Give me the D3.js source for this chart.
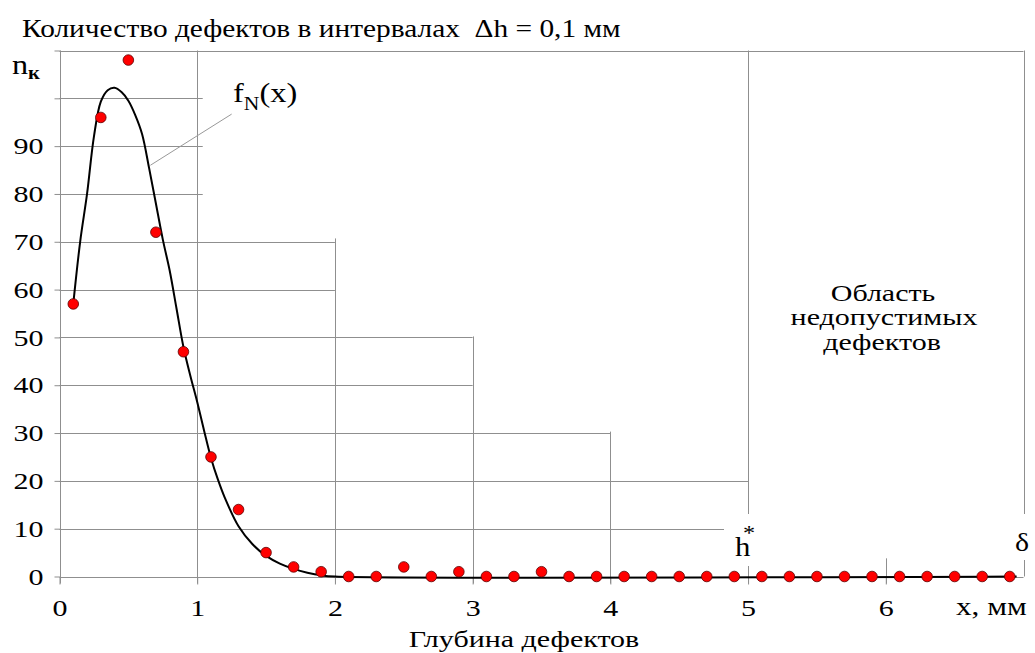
<!DOCTYPE html>
<html>
<head>
<meta charset="utf-8">
<script src="https://d3js.org/d3.v7.min.js"></script>
<style>
  body { margin: 0; background: #fff; }
</style>
</head>
<body>
<script>
// depth of defects (mm) and counted defects
var depthX = [0.1, 0.3, 0.5, 0.7, 0.9, 1.1, 1.3, 1.5, 1.7, 1.9,
              2.1, 2.3, 2.5, 2.7, 2.9, 3.1, 3.3, 3.5, 3.7, 3.9,
              4.1, 4.3, 4.5, 4.7, 4.9, 5.1, 5.3, 5.5, 5.7, 5.9,
              6.1, 6.3, 6.5, 6.7, 6.9];
var counts = [57, 96, 108, 72, 47, 25, 14, 5, 2, 1,
              0, 0, 2, 0, 1, 0, 0, 1, 0, 0,
              0, 0, 0, 0, 0, 0, 0, 0, 0, 0,
              0, 0, 0, 0, 0];

// fitted curve f_N(x)
var fitX = [0.1, 0.15, 0.2, 0.25, 0.3, 0.35, 0.4, 0.45, 0.5, 0.55, 0.6, 0.65, 0.7, 0.75, 0.8,
            0.85, 0.9, 0.95, 1.0, 1.05, 1.1, 1.15, 1.2, 1.3, 1.4, 1.5, 1.6, 1.7, 1.8, 1.9, 2.0, 6.95];
var fitY = [57, 70, 80, 92, 99.3, 101.7, 102.2, 101.3, 99.5, 96.5, 92.5, 85.5, 78, 70.5, 64,
            56, 48, 42, 36.5, 30.5, 24.8, 20.3, 16.5, 10.5, 6.8, 4.3, 2.7, 1.6, 0.8, 0.25, 0, 0];

var xTicks = [0, 1, 2, 3, 4, 5, 6];
var yTicks = [0, 10, 20, 30, 40, 50, 60, 70, 80, 90, 100, 110];
var yLabels = [0, 10, 20, 30, 40, 50, 60, 70, 80, 90];

// grid lines stop in a staircase: [level, x where it ends]
var hGrid = [[10, 5], [20, 5], [30, 4], [40, 3], [50, 3], [60, 2], [70, 2],
             [80, 1.04], [90, 1.04], [100, 1.04], [110, 7]];
// vertical lines: [x, level where it starts]
var vGrid = [[1, 110], [2, 70.7], [3, 50.2], [4, 30.3], [5, 110], [6, 3.8], [7, 110]];

var leader = [[1.25, 96.7], [0.66, 86]];

var width = 1035, height = 653;
var SX = 1.25; // text in the picture is stretched sideways
var FONT = 'Liberation Serif, Tinos, serif';
var gridCol = '#8f8f8f';

var svg = d3.select('body').append('svg')
  .attr('width', width)
  .attr('height', height)
  .attr('font-family', FONT);

var x = d3.scaleLinear().domain([0, 7]).range([59.5, 1023.5]);
var y = d3.scaleLinear().domain([0, 110]).range([576.5, 50.5]);

// grid
svg.append('g').selectAll('line')
  .data(hGrid)
  .join('line')
  .attr('x1', x(0)).attr('x2', function(d) { return x(d[1]); })
  .attr('y1', function(d) { return Math.round(y(d[0])) + 0.5; })
  .attr('y2', function(d) { return Math.round(y(d[0])) + 0.5; })
  .attr('stroke', gridCol).attr('stroke-width', 1);

svg.append('g').selectAll('line')
  .data(vGrid)
  .join('line')
  .attr('x1', function(d) { return Math.round(x(d[0])) + 0.5; })
  .attr('x2', function(d) { return Math.round(x(d[0])) + 0.5; })
  .attr('y1', function(d) { return y(d[1]); })
  .attr('y2', function(d) { return d[0] == 7 ? y(0) : y(0) + 7; })
  .attr('stroke', gridCol).attr('stroke-width', 1);

// axes
var yAxis = d3.axisLeft(y).tickValues(yTicks).tickSize(6).tickSizeOuter(0)
  .tickFormat(function(d) { return yLabels.indexOf(d) >= 0 ? d : ''; });
var gy = svg.append('g').attr('transform', 'translate(' + (Math.round(x(0)) + 0.5) + ',0)').call(yAxis);
gy.attr('font-family', FONT);
gy.select('.domain').remove();
gy.selectAll('.tick line').attr('stroke', gridCol);
gy.selectAll('.tick text')
  .attr('x', 0)
  .attr('transform', 'translate(-17,0) scale(' + SX + ',1)')
  .attr('font-family', FONT)
  .attr('font-size', 24);

var xAxis = d3.axisBottom(x).tickValues(xTicks).tickSize(7).tickSizeOuter(0)
  .tickFormat(d3.format('d'));
var gx = svg.append('g').attr('transform', 'translate(0,' + (Math.round(y(0)) + 0.5) + ')').call(xAxis);
gx.attr('font-family', FONT);
gx.select('.domain').attr('stroke', gridCol).attr('d', 'M' + x(0) + ',0H' + x(7));
gx.selectAll('.tick line').attr('stroke', gridCol);
gx.selectAll('.tick text')
  .attr('y', 38.5).attr('dy', 0)
  .attr('transform', 'scale(' + SX + ',1)')
  .attr('font-family', FONT)
  .attr('font-size', 24);

// left axis line
svg.append('line')
  .attr('x1', Math.round(x(0)) + 0.5).attr('x2', Math.round(x(0)) + 0.5)
  .attr('y1', y(110)).attr('y2', y(0) + 7)
  .attr('stroke', gridCol);

// fitted curve
var line = d3.line()
  .x(function(d, i) { return x(fitX[i]); })
  .y(function(d, i) { return y(fitY[i]); })
  .curve(d3.curveCatmullRom);
svg.append('path')
  .datum(fitX)
  .attr('d', line)
  .attr('fill', 'none')
  .attr('stroke', '#000')
  .attr('stroke-width', 2);

// points
svg.append('g').selectAll('circle')
  .data(counts)
  .join('circle')
  .attr('cx', function(d, i) { return x(depthX[i]); })
  .attr('cy', function(d) { return y(d); })
  .attr('r', 5.3)
  .attr('fill', '#ff0000')
  .attr('stroke', '#5a0000')
  .attr('stroke-width', 0.8);

// leader line to f_N(x)
svg.append('line')
  .attr('x1', x(leader[0][0])).attr('y1', y(leader[0][1]))
  .attr('x2', x(leader[1][0])).attr('y2', y(leader[1][1]))
  .attr('stroke', '#999').attr('stroke-width', 1);

function label(px, py, str, size, anchor, sx) {
  return svg.append('text')
    .attr('transform', 'translate(' + px + ',' + py + ') scale(' + (sx || SX) + ',1)')
    .attr('text-anchor', anchor || 'start')
    .attr('font-family', FONT)
    .attr('font-size', size)
    .text(str);
}

label(22, 37, 'Количество дефектов в интервалах\u00a0 Δh = 0,1 мм', 26, 'start', 1.13);

// n_k
var nk = label(12, 74, '', 28, 'start', 1.15);
nk.append('tspan').text('n');
nk.append('tspan').attr('dy', 5).attr('font-size', 18).attr('font-weight', 'bold').text('к');

// f_N(x)
var fn = label(233, 102, '', 27, 'start', 1.2);
fn.append('tspan').text('f');
fn.append('tspan').attr('dy', 8).attr('font-size', 18).text('N');
fn.append('tspan').attr('dy', -8).text('(x)');

// h* and delta with white boxes behind
svg.append('rect').attr('x', 724).attr('y', 514).attr('width', 40).attr('height', 52).attr('fill', '#fff');
svg.append('rect').attr('x', 1005).attr('y', 514).attr('width', 30).attr('height', 46).attr('fill', '#fff');
label(735, 556, 'h', 28, 'start', 1.1);
label(749, 540, '*', 22, 'middle', 1.1);
label(1022, 551, 'δ', 26, 'middle', 1.15);

label(956, 615, 'x, мм', 25);
label(524, 647, 'Глубина дефектов', 24, 'middle');

label(883, 301, 'Область', 24, 'middle');
label(884, 325, 'недопустимых', 24, 'middle');
label(882, 350, 'дефектов', 24, 'middle');
</script>
</body>
</html>
